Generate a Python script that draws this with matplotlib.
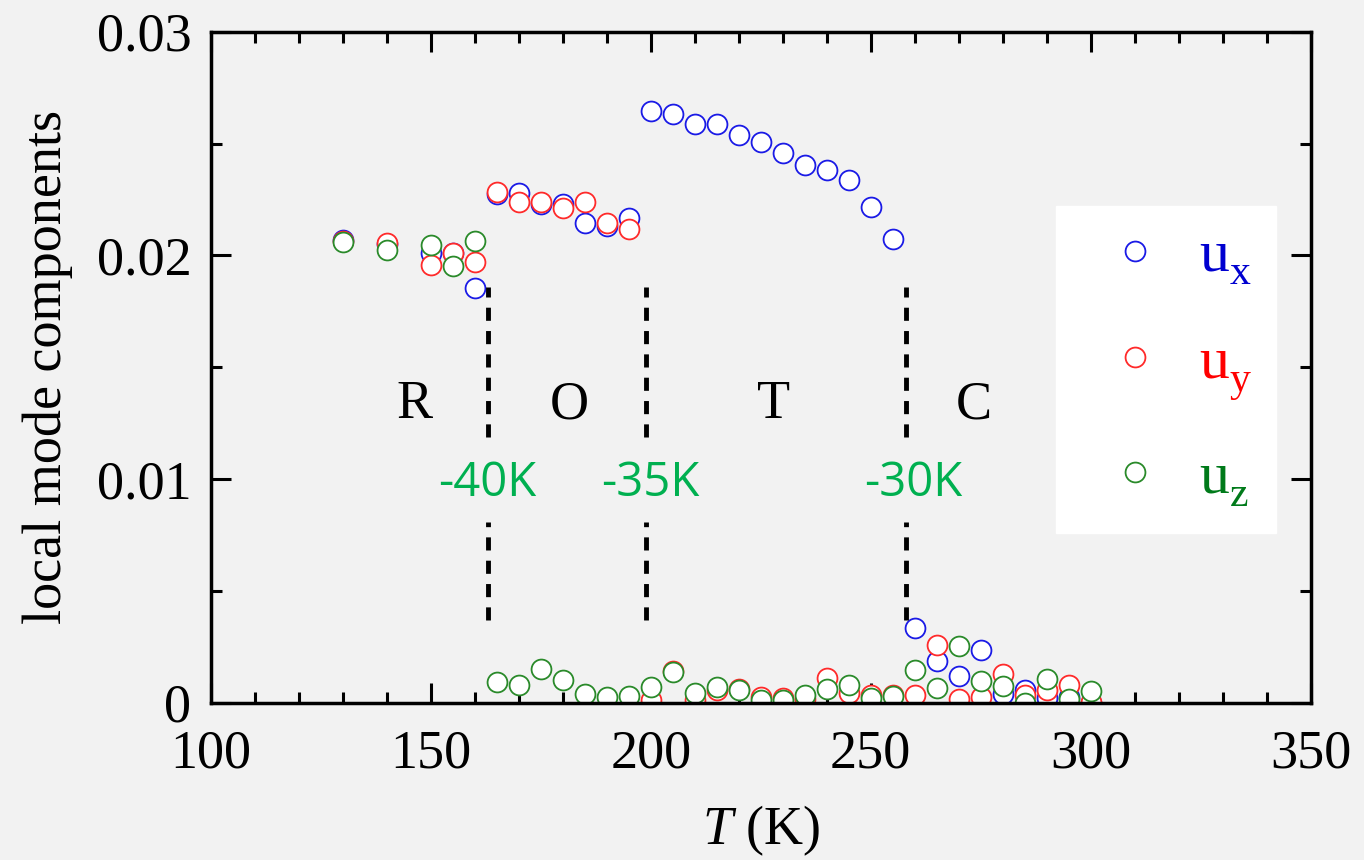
import matplotlib
matplotlib.use("Agg")
import matplotlib.pyplot as plt
from matplotlib.ticker import MultipleLocator

# temperatures (K)
T = [130, 140, 150, 155, 160, 165, 170, 175, 180, 185, 190, 195, 200, 205, 210,
     215, 220, 225, 230, 235, 240, 245, 250, 255, 260, 265, 270, 275, 280, 285,
     290, 295, 300]

ux = [0.0207, 0.0205, 0.0201, 0.0201, 0.01855, 0.02273, 0.02281, 0.02228, 0.02228,
      0.02143, 0.02132, 0.02165, 0.02645, 0.02632, 0.02588, 0.02588, 0.02539,
      0.02507, 0.02460, 0.02402, 0.02381, 0.02337, 0.02215, 0.02073, 0.00333,
      0.00186, 0.00119, 0.00236, 0.00038, 0.00057, 0.0002, 0.00027, 0.0]

uy = [0.02064, 0.02054, 0.01957, 0.02009, 0.01969, 0.02284, 0.02240, 0.02240,
      0.02210, 0.02237, 0.02143, 0.02120, 0.0001, 0.00142, 0.0001, 0.00057,
      0.0006, 0.00025, 0.0002, 0.00015, 0.00109, 0.00042, 0.00034, 0.00034,
      0.00034, 0.00258, 0.00015, 0.00027, 0.00128, 0.00034, 0.00057, 0.00079,
      0.00004]

uz = [0.02061, 0.02024, 0.02046, 0.01953, 0.02064, 0.00094, 0.00079, 0.00151,
      0.00101, 0.00039, 0.00024, 0.00031, 0.00069, 0.00136, 0.00042, 0.00072,
      0.00057, 0.0001, 0.00012, 0.00034, 0.0006, 0.00079, 0.0002, 0.0003,
      0.00146, 0.00067, 0.00255, 0.00097, 0.00075, 0.0, 0.00106, 0.00017,
      0.00054]

# phase boundaries and labels
boundary_T = [163, 199, 258]
boundary_labels = ['-40K', '-35K', '-30K']
boundary_label_T = [162.8, 199.8, 259.6]
phase_names = ['R', 'O', 'T', 'C']
phase_T = [146.4, 181.4, 228.0, 273.5]

plt.rcParams['font.family'] = 'Liberation Serif'
plt.rcParams['mathtext.fontset'] = 'custom'
plt.rcParams['mathtext.rm'] = 'Liberation Serif'
plt.rcParams['mathtext.it'] = 'Liberation Serif:italic'

bg = '#f2f2f2'
fig = plt.figure(figsize=(13.64, 8.6), dpi=100, facecolor=bg)
ax = fig.add_axes([0.1545, 0.1829, 0.8064, 0.7802], facecolor=bg)

series = [(ux, '#1a1ae6', '#0000d0', r'$\mathrm{u}^{}_{\mathrm{x}}$'),
          (uy, '#ff2a2a', '#ff0000', r'$\mathrm{u}^{}_{\mathrm{y}}$'),
          (uz, '#2a8a2a', '#007a1a', r'$\mathrm{u}^{}_{\mathrm{z}}$')]
for vals, c, tc, lbl in series:
    ax.plot(T, vals, linestyle='none', marker='o', ms=14.3, mfc='white',
            mec=c, mew=1.3, label=lbl)

# dashed phase boundaries, broken around the temperature labels
ax.vlines(boundary_T, 0.0119, 0.0186, colors='black', lw=3.5,
          linestyles=(0, (2.7, 2.1)))
ax.vlines(boundary_T, 0.0037, 0.0081, colors='black', lw=3.5,
          linestyles=(0, (2.7, 2.1)))

for x, s in zip(boundary_label_T, boundary_labels):
    ax.text(x, 0.0098, s, color='#00b050', fontsize=34, family='Open Sans',
            ha='center', va='center')
for x, s in zip(phase_T, phase_names):
    ax.text(x, 0.0133, s, fontsize=39, ha='center', va='center')

ax.set_xlim(100, 350)
ax.set_ylim(0, 0.03)
ax.xaxis.set_major_locator(MultipleLocator(50))
ax.xaxis.set_minor_locator(MultipleLocator(10))
ax.yaxis.set_major_locator(MultipleLocator(0.01))
ax.yaxis.set_minor_locator(MultipleLocator(0.005))
ax.yaxis.set_major_formatter(plt.FuncFormatter(lambda v, p: '0' if v == 0 else f'{v:.2f}'))

ax.tick_params(which='both', direction='in', top=True, right=True,
               width=2.2, labelsize=39)
ax.tick_params(which='major', length=14.5)
ax.tick_params(which='minor', length=8)
ax.tick_params(axis='x', pad=19)
ax.tick_params(axis='y', pad=14)
for sp in ax.spines.values():
    sp.set_linewidth(2.5)

ax.set_xlabel(r'$\mathit{T}$ (K)', fontsize=39, labelpad=17)
ax.set_ylabel('local mode components', fontsize=39, labelpad=17)

leg = ax.legend(loc='upper left', bbox_to_anchor=(0.7685, 0.7402), fontsize=43,
                frameon=True, fancybox=False, borderpad=0.4, labelspacing=0.82,
                handlelength=1.85, handletextpad=0.15, borderaxespad=0)
leg.get_frame().set_facecolor('white')
leg.get_frame().set_edgecolor('white')
leg.get_frame().set_alpha(1)
for t, (_, _, tc, _) in zip(leg.get_texts(), series):
    t.set_color(tc)

fig.savefig('out.png', dpi=100, facecolor=bg)
